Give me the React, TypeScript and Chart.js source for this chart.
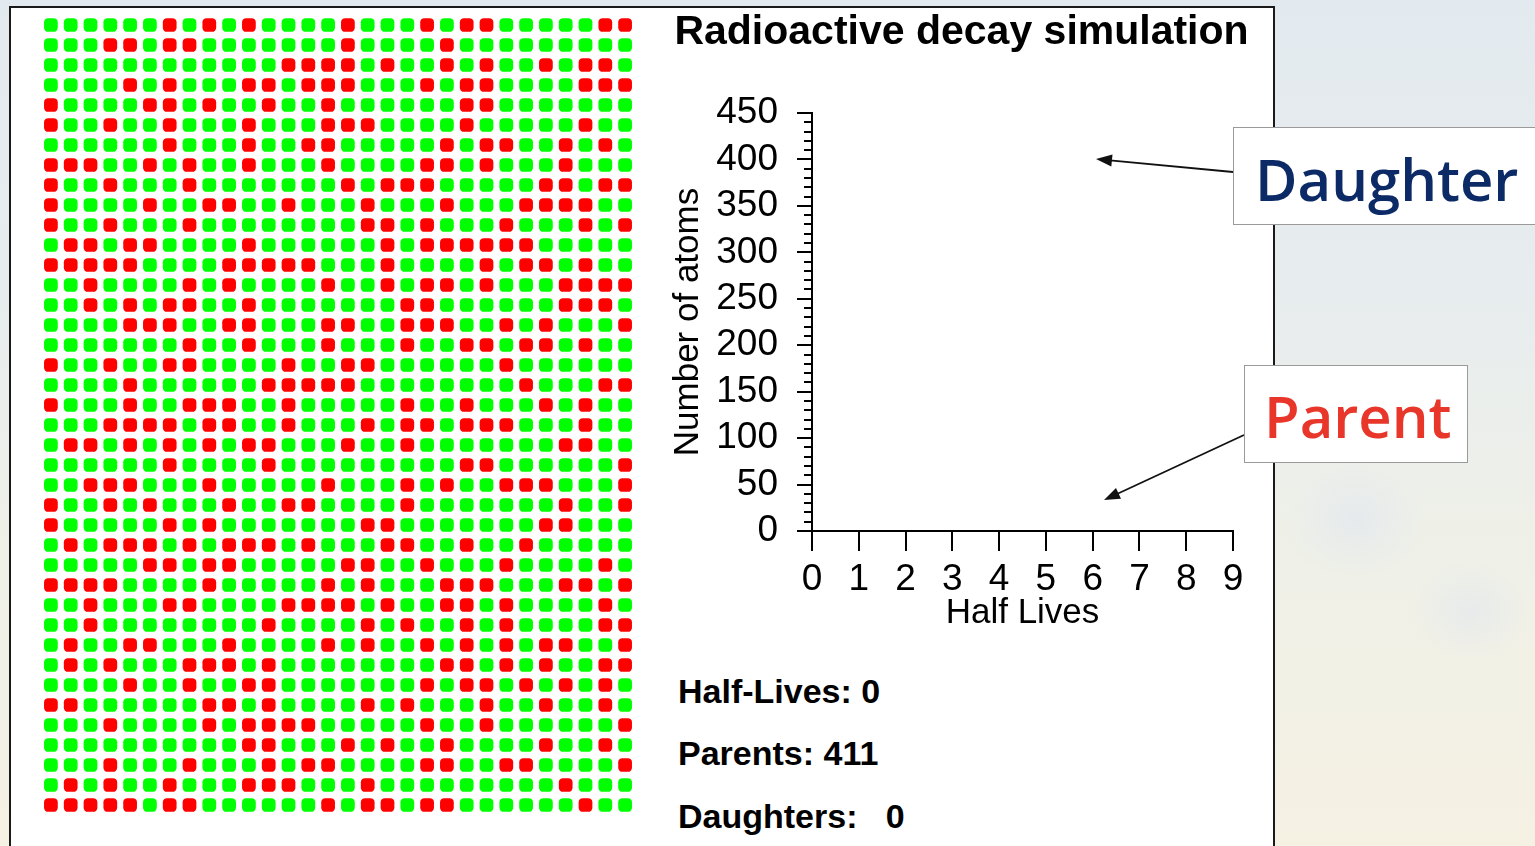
import React, { useEffect, useRef } from "react";
import { Chart, registerables } from "chart.js";

Chart.register(...registerables);

// Atom grid: 40 rows x 30 columns, R = parent atom (red), G = other (green)
const gridRows: string[] = [
  "GGGGGGRGRGRGGGGRGGGRGRRGGGGGRR",
  "GGGRRGRRGGGGGGGRGGGGRGGGGGGGGG",
  "GGGGGGGGGGGGRRRRGRGGRGRGGRGRRG",
  "GGGGRGRGGGRRGRRRGGGRGRRGGGGRRR",
  "RGGGGRRGRGGRGGRGGGGGGRRGGGGGGG",
  "RGGRGGRGGGRGGGRRRGGGGRGGGGGRGG",
  "GGGGGGRGGGRGGRRGGGGGRGRRGGRGRG",
  "RRRGGRGRGGRGGGRGGGGRRGRGGGRGGG",
  "RGGRGGGRGGGGGGGRGRRRGGGGGRRGRR",
  "RGGGGRGGRRGGRGGGRGGGRGGGRRRRGG",
  "RGGRGGGRGGGGGGGGRRGRGGGRGGGRGR",
  "GRRGRRGGGGRGGGGGGRGRRRRRRGGGGG",
  "RRRRRGGGGRRRRRGGGRGGGGRGRRGRGG",
  "GGRGGGGRGRGGGGRGGRGRRGRGGGRRRR",
  "GGRGRGRRGGRGGGGGGGRRGGGGGGRRRG",
  "GGGGRRRGGRRGGGRRGGRRRGGRGRGGGR",
  "GGGGGGGRGGRGGGRGGGRGGRRGRRGRGG",
  "RGGRGGRRGGGGRGGRRGGGGGGRGGGGGG",
  "GGGGRGGGGGGRRRRRGGGGGGGGRGGGRR",
  "RGGGRGGRRRGGRGGGGGRGGRGGGRGRGG",
  "GGGRRRRGRRGGRGGGRGRRGRRRGGGRGG",
  "GRRGRGRGRGRRGGGRGGRGGGGGGGRRGG",
  "GGGGGGRGGGGRGGGGGGGGGRRGGGGGGR",
  "GGRRRGGGRGGGGGRGGGRGRGGRRRGGGR",
  "RGGRGRGGGRGGRRGGGGRGGGGGGGRGGR",
  "RGGGGGRGRGGGGGGGRRGGGGGGGRRGGG",
  "GRGRRRGRGRRRGRGGGRRGGRGGRGGGGG",
  "GGGGGRRGRRGGGGGRRGGRGGGRGGGGRG",
  "RRRRGGGGRGGGGGRGRGGGRRRGGGRRGR",
  "GGRGGGRRGGGGRRRRGRGGRRGRGGGGRG",
  "GGRGGGGGGGGRGGGGRGRGGRGRGGGGRR",
  "GRGGRRGGGRGGGGRGRGGRGRGRGRRGGR",
  "GRGRGGGRRRGRGGGGGGGGRRGRGRGGRR",
  "GGGGRGGRGGRRGGGGGGGRGRRGRGRGRG",
  "RRGGGGGGRRGRGGGGRGRGGGRGGRGGRG",
  "GGGRGGGGRGRRRRGGGGGRGGRGGGGGGR",
  "GGGGGGGGGGRRGGGRGRGGRGGGGRGGRG",
  "GGGRGGGRGGGRGRRGGGGRRGGRRGGGGR",
  "GRGRGGRGGGRRRGGGRGGGGGGGGGRGGG",
  "RRRRRGRRGGGGGGRGRRGRRGGGGGGRGG",
];

// Decay plot (empty at half-life 0)
const halfLifeTicks: number[] = [0, 1, 2, 3, 4, 5, 6, 7, 8, 9];
const parentSeries: { x: number; y: number }[] = [];
const daughterSeries: { x: number; y: number }[] = [];
const yMin = 0;
const yMax = 450;
const yMajorStep = 50;
const yMinorStep = 10;

const counterLabels: string[] = ["Half-Lives: 0", "Parents: 411", "Daughters:   0"];

const FONT = "'Liberation Sans', Arial, sans-serif";

const minorTicksPlugin = {
  id: "minorTicks",
  afterDraw(chart: any) {
    const y = chart.scales.y;
    const ctx = chart.ctx;
    const x0 = chart.chartArea.left;
    ctx.save();
    ctx.strokeStyle = "#000";
    ctx.lineWidth = 2;
    for (let v = yMin; v <= yMax; v += yMinorStep) {
      if (v % yMajorStep === 0) continue;
      const py = Math.round(y.getPixelForValue(v));
      ctx.beginPath();
      ctx.moveTo(x0 - 8, py);
      ctx.lineTo(x0, py);
      ctx.stroke();
    }
    ctx.restore();
  },
};

export default function App() {
  const gridRef = useRef<HTMLCanvasElement | null>(null);
  const decayRef = useRef<HTMLCanvasElement | null>(null);

  useEffect(() => {
    document.body.style.margin = "0";
    const redPts: { x: number; y: number }[] = [];
    const greenPts: { x: number; y: number }[] = [];
    gridRows.forEach((row, r) => {
      row.split("").forEach((ch, c) => {
        const p = { x: c + 1, y: r + 1 };
        if (ch === "R") redPts.push(p);
        else greenPts.push(p);
      });
    });

    const grid = new Chart(gridRef.current as HTMLCanvasElement, {
      type: "scatter",
      data: {
        datasets: [
          {
            label: "Parent atoms",
            data: redPts,
            pointStyle: "rectRounded",
            pointRadius: 8,
            backgroundColor: "#ff0000",
            borderWidth: 0,
            clip: false,
          } as any,
          {
            label: "Other atoms",
            data: greenPts,
            pointStyle: "rectRounded",
            pointRadius: 8,
            backgroundColor: "#00ff00",
            borderWidth: 0,
            clip: false,
          } as any,
        ],
      },
      options: {
        animation: false,
        responsive: false,
        events: [],
        layout: { padding: 0, autoPadding: false },
        plugins: { legend: { display: false }, tooltip: { enabled: false } },
        scales: {
          x: { type: "linear", display: false, min: 0.5, max: 30.5 },
          y: { type: "linear", display: false, min: 0.5, max: 40.5, reverse: true },
        },
      },
    });

    const decay = new Chart(decayRef.current as HTMLCanvasElement, {
      type: "line",
      data: {
        datasets: [
          { label: "Parents", data: parentSeries, borderColor: "#ff0000", pointRadius: 0 },
          { label: "Daughters", data: daughterSeries, borderColor: "#0b2d6b", pointRadius: 0 },
        ],
      },
      options: {
        animation: false,
        responsive: false,
        events: [],
        layout: { padding: 0, autoPadding: false },
        plugins: {
          legend: { display: false },
          tooltip: { enabled: false },
          title: {
            display: true,
            text: "Radioactive decay simulation",
            color: "#000",
            font: { family: FONT, size: 41, weight: "bold", lineHeight: 1 },
            padding: { top: 12, bottom: 60 },
          },
        },
        scales: {
          x: {
            type: "linear",
            min: halfLifeTicks[0],
            max: halfLifeTicks[halfLifeTicks.length - 1],
            afterBuildTicks: (s: any) => {
              s.ticks = halfLifeTicks.map((v) => ({ value: v }));
            },
            ticks: {
              color: "#000",
              font: { family: FONT, size: 37, lineHeight: 1 },
              padding: 10.5,
              maxRotation: 0,
              autoSkip: false,
            },
            grid: { drawOnChartArea: false, drawTicks: true, tickLength: 20, lineWidth: 2, color: "#000" },
            border: { display: true, color: "#000", width: 2 },
            title: {
              display: true,
              text: "Half Lives",
              color: "#000",
              font: { family: FONT, size: 35, lineHeight: 1 },
              padding: { top: 0, bottom: 0 },
            },
            afterFit: (s: any) => {
              s.height = 100;
            },
          },
          y: {
            type: "linear",
            min: yMin,
            max: yMax,
            ticks: {
              stepSize: yMajorStep,
              color: "#000",
              font: { family: FONT, size: 37, lineHeight: 1 },
              padding: 19,
            },
            grid: { drawOnChartArea: false, drawTicks: true, tickLength: 15, lineWidth: 2, color: "#000" },
            border: { display: true, color: "#000", width: 2 },
            title: {
              display: true,
              text: "Number of atoms",
              color: "#000",
              font: { family: FONT, size: 35, lineHeight: 1 },
              padding: { top: 10.5, bottom: 0 },
            },
            afterFit: (s: any) => {
              s.width = 152;
            },
          },
          spacer: {
            type: "linear",
            position: "right",
            display: true,
            min: yMin,
            max: yMax,
            grid: { display: false, drawTicks: false },
            border: { display: false },
            ticks: { display: false },
            afterFit: (s: any) => {
              s.width = 30;
            },
          },
        },
      },
      plugins: [minorTicksPlugin],
    });

    return () => {
      grid.destroy();
      decay.destroy();
    };
  }, []);

  const counterStyle = (top: number): React.CSSProperties => ({
    position: "absolute",
    left: 678,
    top,
    fontFamily: FONT,
    fontWeight: "bold",
    fontSize: 34,
    lineHeight: "34px",
    color: "#000",
    whiteSpace: "pre",
  });

  const calloutText: React.CSSProperties = {
    position: "absolute",
    fontFamily: "'Open Sans', 'Noto Sans', sans-serif",
    fontWeight: 600,
    fontSize: 58,
    lineHeight: "58px",
    whiteSpace: "pre",
  };

  return (
    <div
      style={{
        position: "fixed",
        left: 0,
        top: 0,
        width: 1535,
        height: 846,
        overflow: "hidden",
        background:
          "radial-gradient(ellipse 70px 60px at 1355px 520px, rgba(220,226,242,0.45), rgba(220,226,242,0) 100%), radial-gradient(ellipse 60px 50px at 1470px 610px, rgba(220,226,242,0.4), rgba(220,226,242,0) 100%), linear-gradient(180deg, #e3eaef 0%, #e7ecee 35%, #eef0e8 62%, #f5f1e3 100%)",
      }}
    >
      <div
        style={{
          position: "absolute",
          left: 9,
          top: 6,
          width: 1266,
          height: 900,
          boxSizing: "border-box",
          background: "#fff",
          borderLeft: "2px solid #1a1a1a",
          borderTop: "2px solid #1a1a1a",
          borderRight: "2px solid #1a1a1a",
        }}
      />
      <canvas
        ref={gridRef}
        width={594}
        height={800}
        style={{ position: "absolute", left: 41, top: 15, width: 594, height: 800 }}
      />
      <canvas
        ref={decayRef}
        width={603}
        height={631}
        style={{ position: "absolute", left: 660, top: 0, width: 603, height: 631 }}
      />
      <div style={counterStyle(674)}>{counterLabels[0]}</div>
      <div style={counterStyle(736)}>{counterLabels[1]}</div>
      <div style={counterStyle(799)}>{counterLabels[2]}</div>

      <svg
        width={1535}
        height={846}
        style={{ position: "absolute", left: 0, top: 0, pointerEvents: "none" }}
      >
        <line x1={1233} y1={172} x2={1110} y2={160.4} stroke="#111" strokeWidth={1.8} />
        <polygon points="1096,159 1112.5,154.5 1111.3,166.5" fill="#111" />
        <line x1={1244} y1={435} x2={1117} y2={494} stroke="#111" strokeWidth={1.8} />
        <polygon points="1104,500 1121,498.7 1116,487.9" fill="#111" />
      </svg>

      <div
        style={{
          position: "absolute",
          left: 1233,
          top: 127,
          width: 340,
          height: 98,
          boxSizing: "border-box",
          background: "#fff",
          border: "1.5px solid #9a9a9a",
        }}
      />
      <div style={{ ...calloutText, left: 1255, top: 150, color: "#0b2a66" }}>Daughter</div>
      <div
        style={{
          position: "absolute",
          left: 1244,
          top: 365,
          width: 224,
          height: 98,
          boxSizing: "border-box",
          background: "#fff",
          border: "1.5px solid #9a9a9a",
        }}
      />
      <div style={{ ...calloutText, left: 1264, top: 387, color: "#e8372a" }}>Parent</div>
    </div>
  );
}
